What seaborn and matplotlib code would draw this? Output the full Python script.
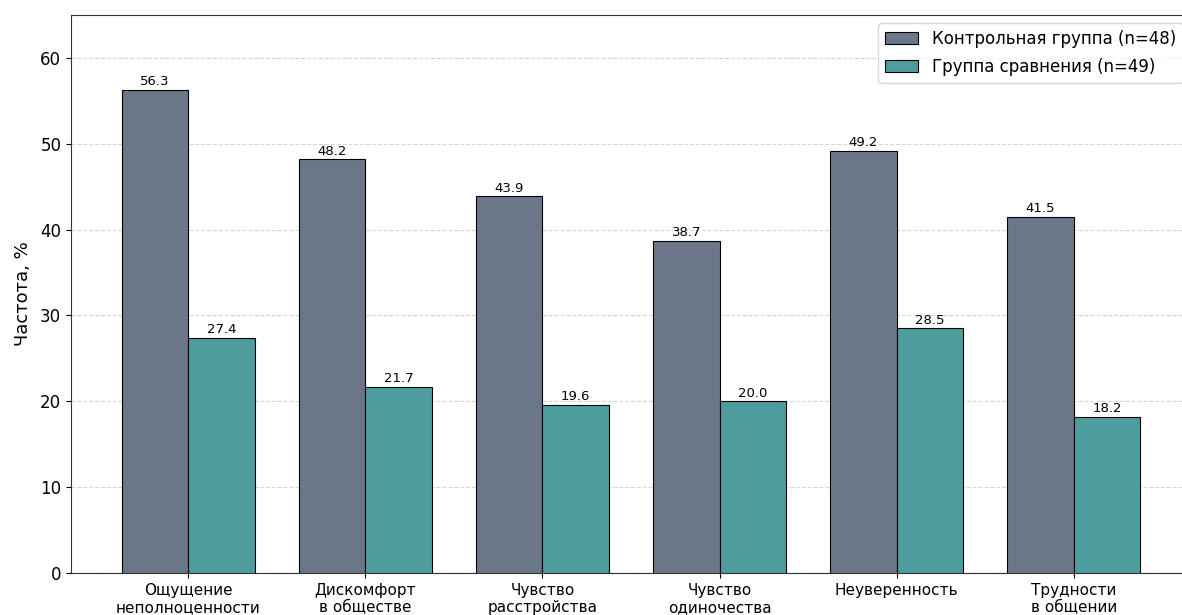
import numpy as np
import pandas as pd
import seaborn as sns
import matplotlib.pyplot as plt

categories = [
    "Ощущение\nнеполноценности",
    "Дискомфорт\nв обществе",
    "Чувство\nрасстройства",
    "Чувство\nодиночества",
    "Неуверенность",
    "Трудности\nв общении",
]
control = [56.3, 48.2, 43.9, 38.7, 49.2, 41.5]
comparison = [27.4, 21.7, 19.6, 20.0, 28.5, 18.2]
groups = ["Контрольная группа (n=48)", "Группа сравнения (n=49)"]
colors = ["#6b7788", "#4e9d9e"]

df = pd.DataFrame({
    "category": categories * 2,
    "value": control + comparison,
    "group": [groups[0]] * len(categories) + [groups[1]] * len(categories),
})

plt.rcParams["font.family"] = ["DejaVu Sans"]
plt.rcParams["font.sans-serif"] = ["DejaVu Sans"]

fig = plt.figure(figsize=(11.82, 6.15), dpi=100)
ax = fig.add_axes([71 / 1182, 42 / 615, 1120 / 1182, 558 / 615])

sns.barplot(
    data=df, x="category", y="value", hue="group",
    palette=colors, width=0.75, edgecolor="black", linewidth=0.8,
    saturation=1, ax=ax, zorder=3,
)

# value labels above bars
for container in ax.containers:
    ax.bar_label(container, fmt="%.1f", fontsize=9.5, padding=1)

ax.set_xlim(-0.6625, 5.6625)
ax.set_ylim(0, 65)
ax.set_xlabel("")
ax.set_ylabel("Частота, %", fontsize=13, labelpad=6)
ax.tick_params(axis="x", labelsize=11)
ax.tick_params(axis="y", labelsize=12)
ax.yaxis.grid(True, linestyle="--", alpha=0.8, color="#cccccc", zorder=0)
ax.set_axisbelow(True)
for s in ax.spines.values():
    s.set_color("#333333")

ax.legend(loc="upper right", fontsize=12, frameon=True, labelspacing=0.6)

fig.savefig("out.png", dpi=100)
